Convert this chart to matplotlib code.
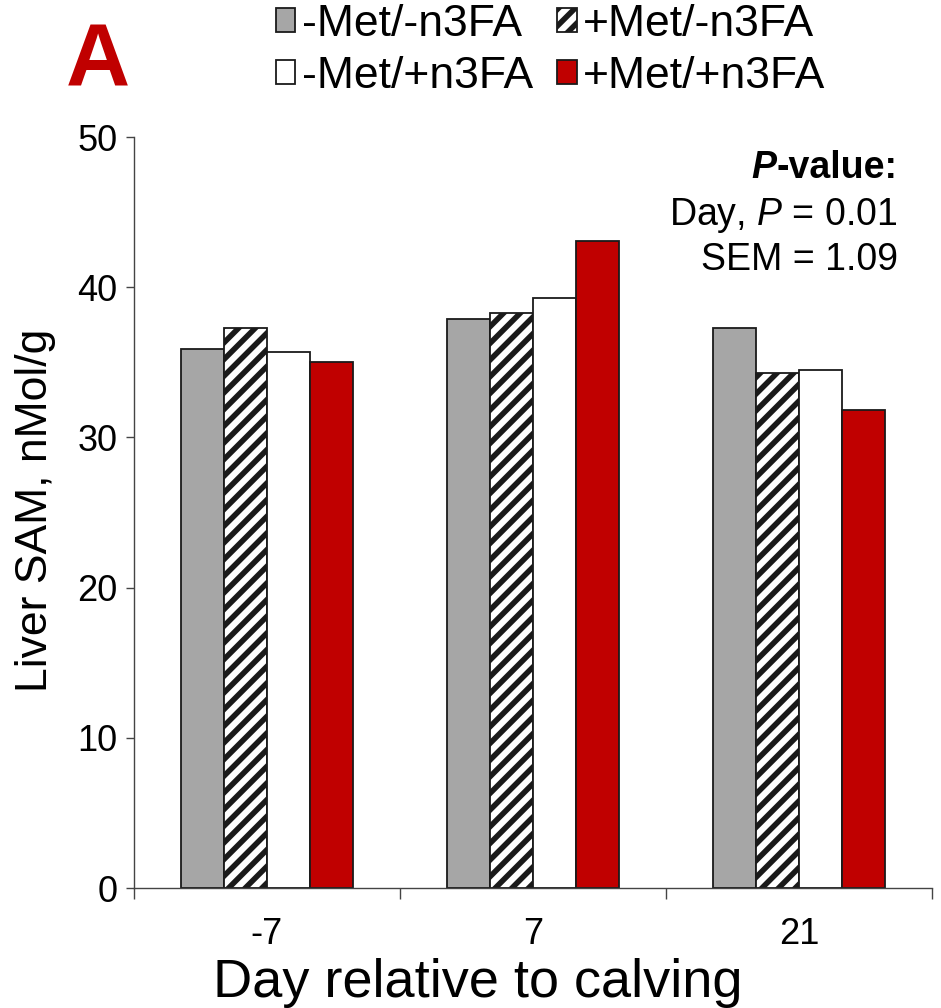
import matplotlib
matplotlib.use("Agg")
import matplotlib.pyplot as plt
import numpy as np

plt.rcParams['font.family'] = ['Liberation Sans', 'DejaVu Sans']
plt.rcParams['mathtext.fontset'] = 'custom'
plt.rcParams['mathtext.rm'] = 'Liberation Sans'
plt.rcParams['mathtext.it'] = 'Liberation Sans:italic'
plt.rcParams['hatch.linewidth'] = 4.0

# data
days = ["-7", "7", "21"]
groups = ["-Met/-n3FA", "+Met/-n3FA", "-Met/+n3FA", "+Met/+n3FA"]
met_neg_n3_neg = [35.9, 37.9, 37.3]
met_pos_n3_neg = [37.3, 38.3, 34.3]
met_neg_n3_pos = [35.7, 39.3, 34.5]
met_pos_n3_pos = [35.0, 43.1, 31.8]

series = [met_neg_n3_neg, met_pos_n3_neg, met_neg_n3_pos, met_pos_n3_pos]
fills = ["#A6A6A6", "white", "white", "#C00000"]
hatches = [None, "//", None, None]

fig = plt.figure(figsize=(9.41, 10.08), dpi=100)
ax = fig.add_axes([0.1424, 0.119, 0.848, 0.745])

x = np.arange(len(days))
w = 0.162
handles = []
for i, vals in enumerate(series):
    off = (i - 1.5) * w
    b = ax.bar(x + off, vals, w, color=fills[i], hatch=hatches[i],
               edgecolor="#1a1a1a", linewidth=1.3, label=groups[i])
    handles.append(b)

ax.set_xlim(-0.5, 2.5)
ax.set_ylim(0, 50)
ax.set_yticks(range(0, 51, 10))
ax.set_xticks(x)
ax.set_xticklabels(days)
ax.set_xticks([-0.5, 0.5, 1.5, 2.5], minor=True)
ax.tick_params(axis='x', which='major', length=0, pad=21, labelsize=26)
ax.tick_params(axis='x', which='minor', length=8, width=1, color="#444444")
ax.tick_params(axis='y', length=6, width=1, color="#444444", pad=6, labelsize=26)

for s in ["top", "right"]:
    ax.spines[s].set_visible(False)
for s in ["left", "bottom"]:
    ax.spines[s].set_color("#444444")
    ax.spines[s].set_linewidth(1)

# axis titles, placed like in the original figure
fig.text(0.508, 1 - 958 / 1008, "Day relative to calving", fontsize=39,
         ha="center", va="top")
fig.text(36 / 941, 1 - 510 / 1008, "Liver SAM, nMol/g", fontsize=32,
         rotation=90, ha="center", va="center")

# p-value block in the upper right
xr = 0.957
t1 = ax.text(xr, 0.945, "-value:", transform=ax.transAxes, ha="right",
             va="baseline", fontsize=27, fontweight="bold")
ax.annotate("P", xy=(0, 0), xycoords=t1, ha="right", va="bottom",
            fontsize=27, fontweight="bold", fontstyle="italic")
ax.text(xr, 0.883, "Day, $\\mathit{P}$ = 0.01", transform=ax.transAxes,
        ha="right", va="baseline", fontsize=27)
ax.text(xr, 0.823, "SEM = 1.09", transform=ax.transAxes,
        ha="right", va="baseline", fontsize=27)

# legend: gray, hatched on first row; white, red on second
order = [0, 2, 1, 3]
leg = fig.legend([handles[i] for i in order], [groups[i] for i in order],
                 ncol=2, loc="center", bbox_to_anchor=(0.585, 0.95),
                 frameon=False, fontsize=32, handlelength=0.44,
                 handleheight=0.44, handletextpad=0.14, columnspacing=0.55,
                 labelspacing=0.25, borderpad=0)

fig.text(0.104, 1 - 64 / 1008, "A", color="#C00000", fontsize=64,
         fontweight="bold", ha="center", va="center")

fig.savefig("out.png", dpi=100)
